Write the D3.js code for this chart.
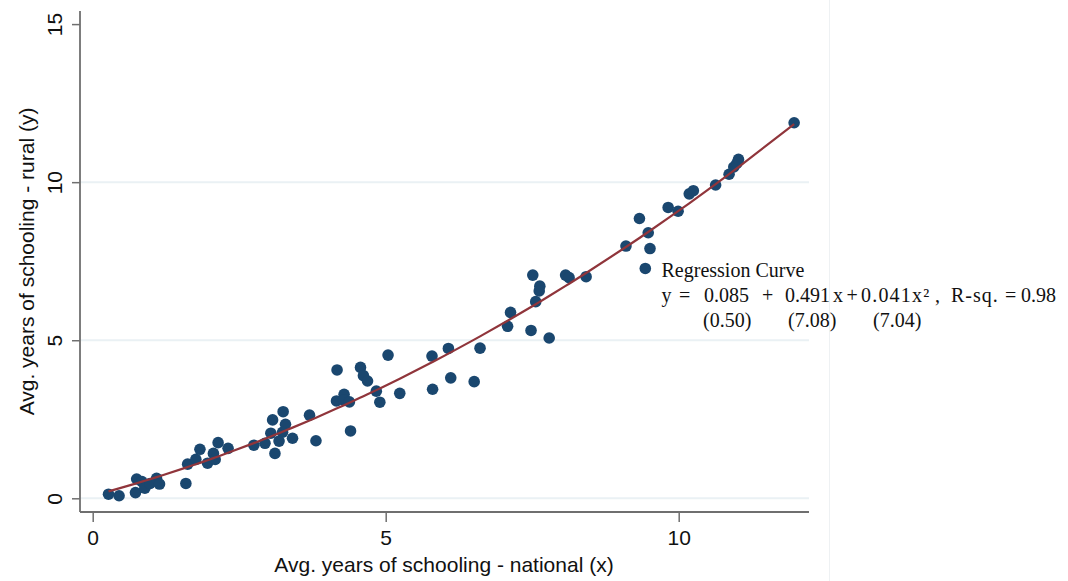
<!DOCTYPE html>
<html>
<head>
<meta charset="utf-8">
<script src="https://cdn.jsdelivr.net/npm/d3@7"></script>
<style>
  html, body { margin: 0; padding: 0; background: #ffffff; }
  svg { display: block; }
</style>
</head>
<body>
<svg id="chart" width="1068" height="581"></svg>
<script>
// Average years of schooling: national (x) vs rural (y)
const xNational = [
  0.27, 0.45, 0.73, 0.75, 0.84, 0.89, 0.98, 1.09, 1.14, 1.59,
  1.62, 1.76, 1.83, 1.96, 2.06, 2.09, 2.14, 2.31, 2.75, 2.94,
  3.11, 3.04, 3.07, 3.25, 3.29, 3.24, 3.18, 3.41, 3.70, 3.81,
  4.17, 4.16, 4.29, 4.28, 4.38, 4.40, 4.57, 4.62, 4.69, 4.84,
  4.90, 5.04, 5.24, 5.79, 5.80, 6.07, 6.11, 6.51, 6.61, 7.08,
  7.13, 7.48, 7.79, 7.51, 7.63, 7.62, 7.56, 8.07, 8.13, 8.42,
  9.10, 9.33, 9.48, 9.51, 9.43, 9.82, 9.99, 10.18, 10.25, 10.63,
  10.86, 10.94, 10.99, 11.02, 11.97
];
const yRural = [
  0.13, 0.08, 0.18, 0.61, 0.53, 0.32, 0.47, 0.63, 0.45, 0.47,
  1.08, 1.23, 1.55, 1.11, 1.42, 1.23, 1.76, 1.58, 1.68, 1.74,
  1.42, 2.06, 2.48, 2.74, 2.34, 2.09, 1.81, 1.90, 2.63, 1.82,
  4.06, 3.08, 3.29, 3.11, 3.05, 2.13, 4.14, 3.88, 3.71, 3.39,
  3.04, 4.53, 3.32, 4.50, 3.45, 4.74, 3.81, 3.69, 4.75, 5.44,
  5.88, 5.31, 5.07, 7.06, 6.71, 6.56, 6.22, 7.06, 6.98, 7.01,
  7.98, 8.85, 8.40, 7.90, 7.27, 9.20, 9.08, 9.63, 9.73, 9.91,
  10.25, 10.48, 10.59, 10.72, 11.88
];

// Quadratic fit: y = b0 + b1*x + b2*x^2, t-statistics underneath
const coefs = [0.085, 0.491, 0.041];
const tStats = ["(0.50)", "(7.08)", "(7.04)"];
const rSquared = "0.98";

const xTicks = [0, 5, 10];
const yTicks = [0, 5, 10, 15];
const yGrid = [0, 5, 10];

const xTitle = "Avg. years of schooling - national (x)";
const yTitle = "Avg. years of schooling - rural (y)";

const svg = d3.select("#chart");

const x = d3.scaleLinear().domain([0, 10]).range([92.7, 678.7]);
const y = d3.scaleLinear().domain([0, 15]).range([498.3, 24.1]);

const plotLeft = 80, plotRight = 809, plotTop = 11, plotBottom = 512;
const axisColor = "#6f6f6f";
const navy = "#1a476f";
const maroon = "#90353b";
const sans = "'Liberation Sans', Arial, sans-serif";
const serif = "'Liberation Serif', 'Times New Roman', serif";

// outer graph-region edge
svg.append("line")
  .attr("x1", 829.5).attr("x2", 829.5).attr("y1", 0).attr("y2", 581)
  .attr("stroke", "#eef1f3").attr("stroke-width", 1);

// horizontal gridlines
svg.append("g").selectAll("line").data(yGrid).join("line")
  .attr("x1", plotLeft).attr("x2", plotRight)
  .attr("y1", d => y(d)).attr("y2", d => y(d))
  .attr("stroke", "#eaf1f4").attr("stroke-width", 2);

// y axis
const yAxis = d3.axisLeft(y).tickValues(yTicks).tickSize(8).tickPadding(10).tickFormat(d3.format("d"));
const gy = svg.append("g").attr("transform", `translate(${plotLeft},0)`).call(yAxis);
gy.select(".domain").remove();
gy.append("line").attr("x1", 0).attr("x2", 0).attr("y1", plotTop).attr("y2", plotBottom)
  .attr("stroke", axisColor).attr("stroke-width", 1.8);
gy.selectAll(".tick line").attr("stroke", axisColor).attr("stroke-width", 1.5);
gy.selectAll(".tick text")
  .attr("font-family", sans).attr("font-size", 21).attr("fill", "#111")
  .attr("x", 0).attr("dy", 0)
  .attr("text-anchor", "middle")
  .attr("transform", "translate(-18,0) rotate(-90)");

// x axis
const xAxis = d3.axisBottom(x).tickValues(xTicks).tickSize(10).tickPadding(8).tickFormat(d3.format("d"));
const gx = svg.append("g").attr("transform", `translate(0,${plotBottom})`).call(xAxis);
gx.select(".domain").remove();
gx.append("line").attr("x1", plotLeft).attr("x2", plotRight).attr("y1", 0).attr("y2", 0)
  .attr("stroke", axisColor).attr("stroke-width", 1.8);
gx.selectAll(".tick line").attr("stroke", axisColor).attr("stroke-width", 1.5);
gx.selectAll(".tick text")
  .attr("font-family", sans).attr("font-size", 21).attr("fill", "#111")
  .attr("y", 33).attr("dy", 0);

// axis titles
svg.append("text")
  .attr("x", (plotLeft + plotRight) / 2 - 0.5).attr("y", 572)
  .attr("text-anchor", "middle")
  .attr("font-family", sans).attr("font-size", 21).attr("fill", "#111")
  .text(xTitle);

svg.append("text")
  .attr("transform", `translate(34,${(plotTop + plotBottom) / 2}) rotate(-90)`)
  .attr("text-anchor", "middle")
  .attr("font-family", sans).attr("font-size", 21).attr("fill", "#111")
  .text(yTitle);

// data points
const points = xNational.map((v, i) => ({ x: v, y: yRural[i] }));
svg.append("g").selectAll("circle").data(points).join("circle")
  .attr("cx", d => x(d.x)).attr("cy", d => y(d.y))
  .attr("r", 5.8)
  .attr("fill", navy);

// fitted quadratic, evaluated at the observed x values
const fit = v => coefs[0] + coefs[1] * v + coefs[2] * v * v;
const fitPts = Array.from(new Set(xNational)).sort((a, b) => a - b).map(v => ({ x: v, y: fit(v) }));
svg.append("path")
  .datum(fitPts)
  .attr("fill", "none")
  .attr("stroke", maroon)
  .attr("stroke-width", 2.2)
  .attr("d", d3.line().x(d => x(d.x)).y(d => y(d.y)));

// regression annotation
const ann = svg.append("g")
  .attr("font-family", serif).attr("font-size", 20).attr("fill", "#111");

const seg = (txt, x0, base, spacing) => {
  const t = ann.append("text").attr("x", x0).attr("y", base).text(txt);
  if (spacing) t.attr("letter-spacing", spacing);
  return t;
};

seg("Regression Curve", 661.5, 277);

const b = 302;
seg("y", 661.5, b);
seg("=", 679, b);
seg(coefs[0].toFixed(3), 704, b);
seg("+", 762, b);
seg(coefs[1].toFixed(3), 785, b);
seg("x", 833, b);
seg("+", 846.5, b);
seg(coefs[2].toFixed(3) + "x²", 861, b, 1.2);
seg(",", 935, b);
seg("R-sq.", 951, b, 1.0);
seg("=", 1005, b);
seg(rSquared, 1021, b);

const b2 = 326.5;
seg(tStats[0], 703, b2);
seg(tStats[1], 788, b2);
seg(tStats[2], 873, b2);
</script>
</body>
</html>
